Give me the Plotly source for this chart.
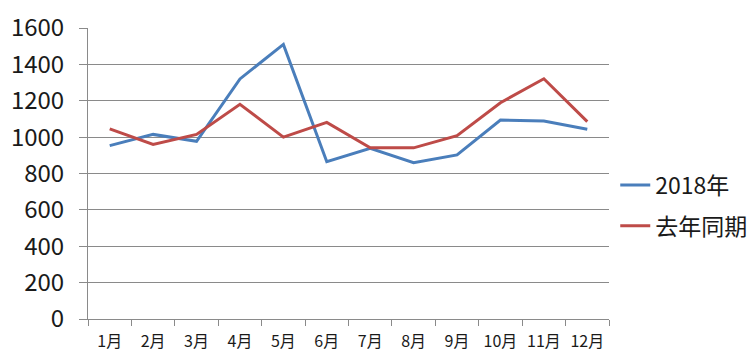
import plotly.graph_objects as go

months = ["1月", "2月", "3月", "4月", "5月", "6月", "7月", "8月", "9月", "10月", "11月", "12月"]
series_2018 = [953, 1015, 977, 1320, 1510, 865, 938, 859, 902, 1094, 1089, 1043]
series_last = [1045, 960, 1015, 1180, 1000, 1081, 941, 941, 1008, 1189, 1321, 1085]
y_ticks = [0, 200, 400, 600, 800, 1000, 1200, 1400, 1600]

FONT = "Noto Sans CJK SC, Noto Sans, sans-serif"
GRID = "#8a8a8a"

fig = go.Figure()
fig.add_trace(go.Scatter(x=months, y=series_2018, mode="lines", name="2018年",
                         line=dict(color="#4A7EBB", width=3), legendgroup="a"))
fig.add_trace(go.Scatter(x=months, y=series_last, mode="lines", name="去年同期",
                         line=dict(color="#BE4B48", width=3), legendgroup="b"))

fig.update_layout(
    width=748, height=356,
    margin=dict(l=80, r=147, t=20, b=45, autoexpand=False),
    paper_bgcolor="white", plot_bgcolor="white",
    font=dict(family=FONT, color="#1a1a1a"),
    showlegend=True,
    legend=dict(x=1.012, xanchor="left", y=0.39, yanchor="middle",
                font=dict(size=23, family=FONT), tracegroupgap=8,
                traceorder="grouped", bgcolor="rgba(0,0,0,0)"),
    xaxis=dict(type="category", showgrid=False, showline=True, linecolor=GRID, linewidth=1,
               ticks="outside", tickson="boundaries", ticklen=6, tickcolor=GRID,
               tickfont=dict(size=16, family=FONT), range=[-0.5, 11.5],
               tickangle=0, automargin=False, ticklabelstandoff=8),
    yaxis=dict(range=[0, 1600], tickvals=y_ticks, showgrid=True, gridcolor=GRID, gridwidth=1,
               showline=True, linecolor=GRID, linewidth=1, ticks="outside", ticklen=8,
               tickcolor=GRID, tickfont=dict(size=24, family=FONT), zeroline=False,
               automargin=False, ticklabelstandoff=10),
)

fig.write_html("out.html")
